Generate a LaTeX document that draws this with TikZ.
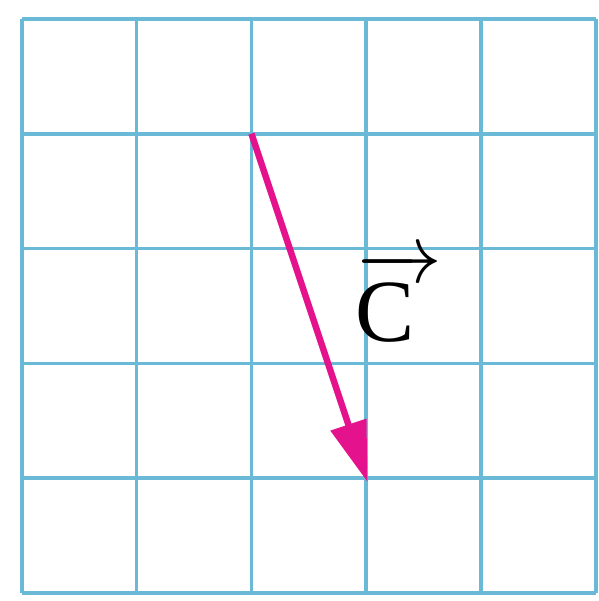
\documentclass[tikz,border=0pt]{standalone}
\usepackage{amsmath}
\usepackage{fontspec}
\newfontfamily\timesfont{Liberation Serif}
\usepackage{tikz}
\usetikzlibrary{arrows.meta}
\definecolor{gridblue}{RGB}{105,185,215}
\definecolor{vecpink}{RGB}{228,18,140}
\begin{document}
\begin{tikzpicture}[>={Triangle[length=15pt,width=9pt]}]
  \useasboundingbox (-0.19,-0.07) rectangle (5.026,5.165);
  \draw[gridblue,line width=0.9pt] (0,0) grid (5,5);
  \coordinate (tail) at (2,4);
  \coordinate (tip) at (3,1);
  \draw[->,vecpink,line width=1.6pt,shorten >=-1pt] (tail) -- (tip);
  \node[anchor=base west,inner sep=0pt,font=\fontsize{22}{26}\selectfont] (lblC)
     at (2.90,2.19) {$\overrightarrow{\text{\timesfont C}\mkern6mu}$};
\end{tikzpicture}
\end{document}
